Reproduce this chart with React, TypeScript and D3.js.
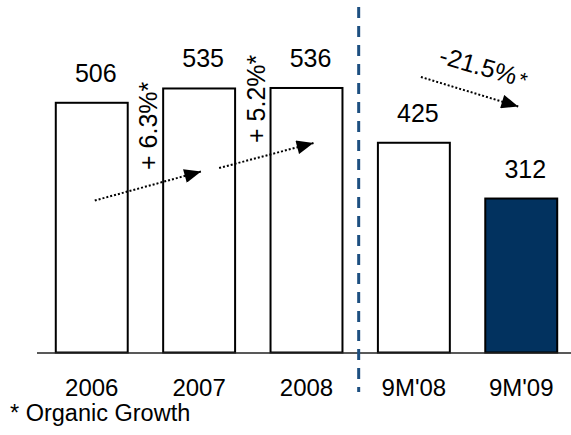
import React from "react";
import * as d3 from "d3";

const categories = ["2006", "2007", "2008", "9M'08", "9M'09"];
const values = [506, 535, 536, 425, 312];
const valueLabels = ["506", "535", "536", "425", "312"];
const highlighted = [false, false, false, false, true];
const growthLabels = ["+ 6.3%", "+ 5.2%", "-21.5%"];
const footnote = "* Organic Growth";

const W = 571;
const H = 435;
const FONT = "'Liberation Sans', Arial, Helvetica, sans-serif";
const NAVY = "#02325F";
const DASH = "#1D4F80";

export default function App() {
  const x = d3
    .scaleBand<string>()
    .domain(categories)
    .range([40, 573])
    .paddingInner(0.33)
    .paddingOuter(0.147);
  const y = d3.scaleLinear().domain([0, 600]).range([352.5, 352.5 - 600 * 0.4935]);
  const bw = x.bandwidth();
  const cx = (c: string) => (x(c) as number) + bw / 2;

  const arrows = [
    { x1: cx(categories[0]) + 3, y1: 200.5, x2: cx(categories[1]) + 2, y2: 171.5 },
    { x1: cx(categories[1]) + 20, y1: 168, x2: cx(categories[2]) + 7, y2: 143 },
    { x1: cx(categories[3]) + 7, y1: 77, x2: cx(categories[4]) - 3, y2: 106.5 },
  ];

  const sepX = (cx(categories[2]) + cx(categories[3])) / 2 - 1.5;

  return (
    <svg
      width={W}
      height={H}
      style={{ position: "absolute", left: 0, top: 0, background: "#fff" }}
      fontFamily={FONT}
    >
      <defs>
        <marker
          id="ah"
          viewBox="0 0 12 10"
          refX="12"
          refY="5"
          markerWidth="9"
          markerHeight="7"
          markerUnits="strokeWidth"
          orient="auto"
        >
          <path d="M0,0 L12,5 L0,10 z" fill="#000" />
        </marker>
      </defs>

      {/* bars */}
      {categories.map((c, i) => (
        <rect
          key={c}
          x={x(c)}
          y={y(values[i])}
          width={bw}
          height={y(0) - y(values[i])}
          fill={highlighted[i] ? NAVY : "#fff"}
          stroke="#000"
          strokeWidth={2}
        />
      ))}

      {/* baseline */}
      <line x1={37} x2={W} y1={y(0) + 0.5} y2={y(0) + 0.5} stroke="#222" strokeWidth={1.6} />

      {/* value labels */}
      {categories.map((c, i) => (
        <text
          key={"v" + c}
          x={cx(c) + 4}
          y={y(values[i]) - 21}
          textAnchor="middle"
          fontSize={25}
          fill="#000"
        >
          {valueLabels[i]}
        </text>
      ))}

      {/* category labels */}
      {categories.map((c) => (
        <text key={"c" + c} x={cx(c)} y={396} textAnchor="middle" fontSize={24} fill="#000">
          {c}
        </text>
      ))}

      {/* separator */}
      <line
        x1={sepX}
        x2={sepX}
        y1={7}
        y2={392}
        stroke={DASH}
        strokeWidth={3}
        strokeDasharray="11 8"
      />

      {/* arrows */}
      {arrows.map((a, i) => (
        <line
          key={"a" + i}
          x1={a.x1}
          y1={a.y1}
          x2={a.x2}
          y2={a.y2}
          stroke="#000"
          strokeWidth={2}
          strokeDasharray="2 2"
          markerEnd="url(#ah)"
        />
      ))}

      {/* growth labels */}
      <text
        transform={`translate(${cx(categories[0]) + 65},170) rotate(-90)`}
        fontSize={25}
        fill="#000"
      >
        {growthLabels[0]}
        <tspan>*</tspan>
      </text>
      <text
        transform={`translate(${cx(categories[1]) + 66},143) rotate(-90)`}
        fontSize={25}
        fill="#000"
      >
        {growthLabels[1]}
        <tspan>*</tspan>
      </text>
      <text
        transform={`translate(${cx(categories[3]) + 24},63) rotate(16)`}
        fontSize={25}
        fill="#000"
      >
        {growthLabels[2]}
        <tspan dx={3} fontSize={21}>*</tspan>
      </text>

      {/* footnote */}
      <text x={10} y={421} fontSize={23.5} fill="#000">
        {footnote}
      </text>
    </svg>
  );
}
